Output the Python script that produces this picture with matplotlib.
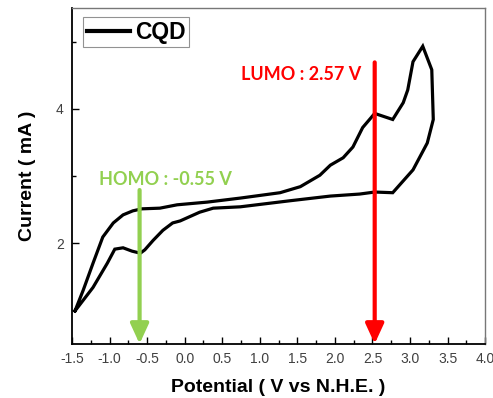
import matplotlib.pyplot as plt
from matplotlib.ticker import MultipleLocator

# CV loop of CQD (V vs N.H.E., mA)
potential = [-1.46, -1.35, -1.22, -1.09, -0.95, -0.82, -0.69, -0.57, -0.33, -0.10,
             0.30, 0.74, 1.27, 1.54, 1.80, 1.94, 2.11, 2.24, 2.37, 2.53,
             2.77, 2.91, 2.97, 3.04, 3.17, 3.29, 3.31,
             3.23, 3.04, 2.77, 2.53, 2.33, 1.94, 1.40, 0.74, 0.38,
             0.20, -0.06, -0.16, -0.29, -0.42, -0.53, -0.59, -0.70, -0.82, -0.93,
             -1.03, -1.22, -1.46]
current = [0.99, 1.30, 1.70, 2.09, 2.30, 2.42, 2.48, 2.51, 2.52, 2.57,
           2.61, 2.67, 2.75, 2.84, 3.01, 3.16, 3.27, 3.43, 3.72, 3.93,
           3.84, 4.09, 4.28, 4.70, 4.93, 4.58, 3.84,
           3.49, 3.09, 2.75, 2.76, 2.73, 2.70, 2.63, 2.54, 2.52,
           2.46, 2.33, 2.30, 2.19, 2.04, 1.90, 1.85, 1.88, 1.93, 1.91,
           1.70, 1.34, 0.99]

homo_x, homo_top = -0.60, 2.79
lumo_x, lumo_top = 2.53, 4.69
homo_label = "HOMO : -0.55 V"
lumo_label = "LUMO : 2.57 V"

fig = plt.figure(figsize=(4.93, 3.98), dpi=100)
ax = fig.add_axes([0.146, 0.136, 0.838, 0.844])

ax.plot(potential, current, color="black", lw=2.3, solid_joinstyle="miter", label="CQD")

ax.set_xlim(-1.5, 4.0)
ax.set_ylim(0.5, 5.5)

ax.annotate("", xy=(homo_x, 0.5), xytext=(homo_x, homo_top),
            arrowprops=dict(arrowstyle="-|>,head_width=0.55,head_length=1.2",
                            color="#92D050", lw=3, shrinkA=0, shrinkB=0))
ax.annotate("", xy=(lumo_x, 0.5), xytext=(lumo_x, lumo_top),
            arrowprops=dict(arrowstyle="-|>,head_width=0.55,head_length=1.2",
                            color="#FF0000", lw=3, shrinkA=0, shrinkB=0))
ax.text(-0.25, 2.95, homo_label, color="#92D050", fontsize=13, fontweight="bold",
        family="Lato", ha="center", va="center")
ax.text(1.55, 4.51, lumo_label, color="#FF0000", fontsize=13, fontweight="bold",
        family="Lato", ha="center", va="center")

ax.xaxis.set_major_locator(MultipleLocator(0.5))
ax.xaxis.set_minor_locator(MultipleLocator(0.25))
ax.set_yticks([2, 4])
ax.set_yticks([1, 3, 5], minor=True)
ax.xaxis.set_major_formatter(plt.FuncFormatter(lambda v, p: f"{v:.1f}"))
ax.tick_params(which="both", direction="in", labelsize=10, labelcolor="#404040",
               top=False, right=False, pad=6)
ax.tick_params(which="major", length=5, width=1)
ax.tick_params(which="minor", length=3, width=1)
for lab in ax.get_xticklabels() + ax.get_yticklabels():
    lab.set_family("Liberation Sans")

for s in ["left", "bottom"]:
    ax.spines[s].set_linewidth(1.3)
for s in ["top", "right"]:
    ax.spines[s].set_color("#777777")
    ax.spines[s].set_linewidth(1.0)

ax.set_xlabel("Potential ( V vs N.H.E. )", fontsize=14, fontweight="bold",
              family="Liberation Sans", labelpad=9)
ax.set_ylabel("Current ( mA )", fontsize=14, fontweight="bold",
              family="Liberation Sans", labelpad=14)

leg = ax.legend(loc="upper left", prop={"family": "Liberation Sans",
                "weight": "bold", "size": 16.5}, handlelength=1.9, handletextpad=0.2,
                borderpad=0.15, borderaxespad=0, fancybox=False, edgecolor="#777777",
                bbox_to_anchor=(0.027, 0.972))
leg.get_frame().set_linewidth(0.8)
leg.get_lines()[0].set_linewidth(3)

fig.savefig("out.png", dpi=100)
